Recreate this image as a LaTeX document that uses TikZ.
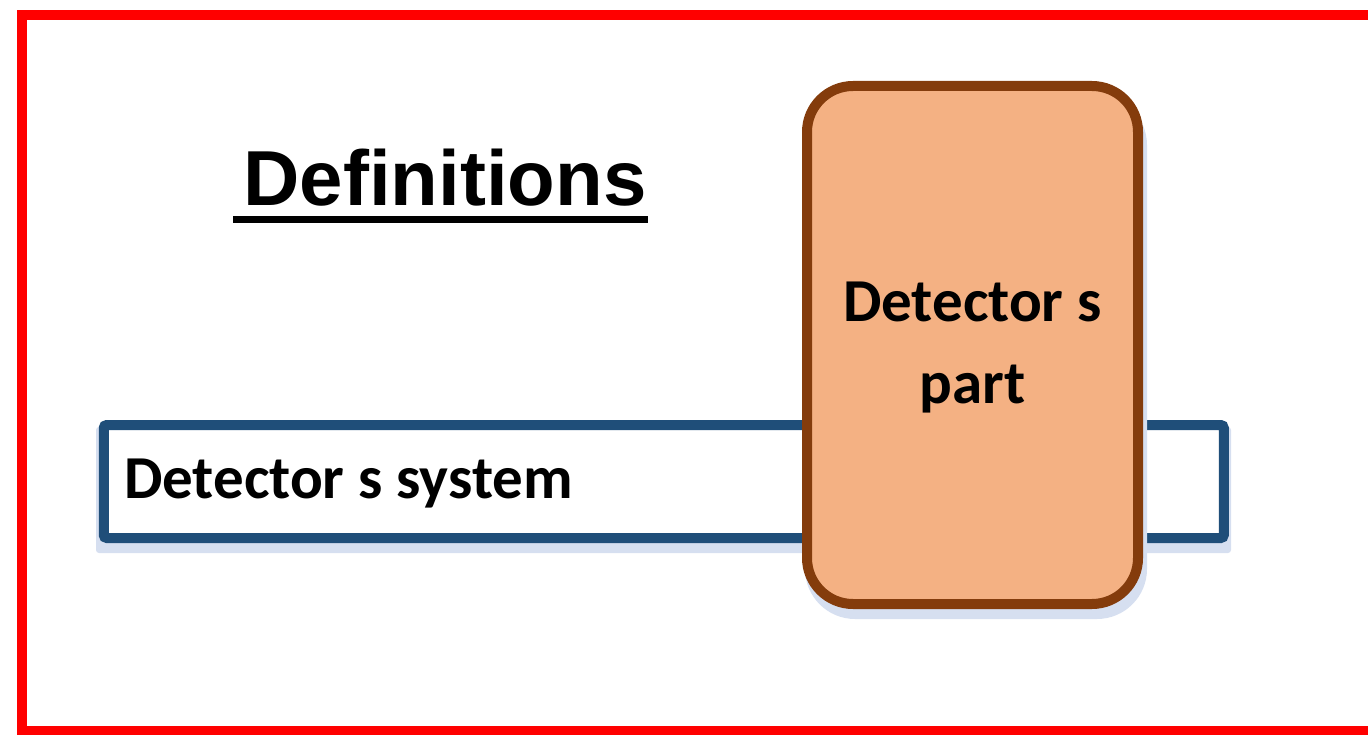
\documentclass[tikz,border=0pt]{standalone}
\usepackage{fontspec}
\setmainfont{Carlito}
\newfontfamily\titlefont{Liberation Sans}
\usetikzlibrary{calc}

\definecolor{framered}{HTML}{FF0000}
\definecolor{sysblue}{HTML}{1F4E79}
\definecolor{partfill}{HTML}{F4B183}
\definecolor{partbrown}{HTML}{843C0C}
\definecolor{shadowblue}{HTML}{D6DFF0}

\begin{document}
\begin{tikzpicture}[
  x=1pt, y=-1pt,
  frame/.style={draw=framered, line width=10pt},
  titletext/.style={font=\titlefont\bfseries\fontsize{78}{90}\selectfont, inner sep=0pt},
  sysbox/.style={draw=sysblue, line width=10pt, rounded corners=3pt, fill=white,
                 minimum width=1120pt, minimum height=113pt, inner sep=0pt},
  partbox/.style={draw=partbrown, line width=10pt, rounded corners=46pt, fill=partfill,
                  minimum width=331pt, minimum height=518pt, inner sep=0pt},
  shade/.style={fill=shadowblue, draw=none},
  boxtext/.style={font=\bfseries\fontsize{61}{82}\selectfont, inner sep=0pt, align=center}
]
  \useasboundingbox (0,0) rectangle (1368,735);
  \clip (0,0) rectangle (1368,735);

  % Outer frame (runs off to the right)
  \draw[frame] (22,15) rectangle (1400,730.5);

  % Title
  \node[titletext, anchor=base] (title) at (445,206) {Definitions};
  \draw[line width=7pt] ($(title.base west)+(-10,13.5)$) -- ($(title.base east)+(1,13.5)$);

  % Detector system bar
  \fill[shade, rounded corners=3pt] (96,427) rectangle (1231,553);
  \node[sysbox] (system) at (663.75,481.5) {};
  \node[boxtext, anchor=base west] (systext) at (124,498) {Detector s system};

  % Detector part
  \fill[shade, rounded corners=50pt] (805,95) rectangle (1147,619);
  \node[partbox] (part) at (972.5,345) {};
  \node[boxtext] (parttext) at ($(part.center)+(0,2.5)$) {Detector s\\part};
\end{tikzpicture}
\end{document}
